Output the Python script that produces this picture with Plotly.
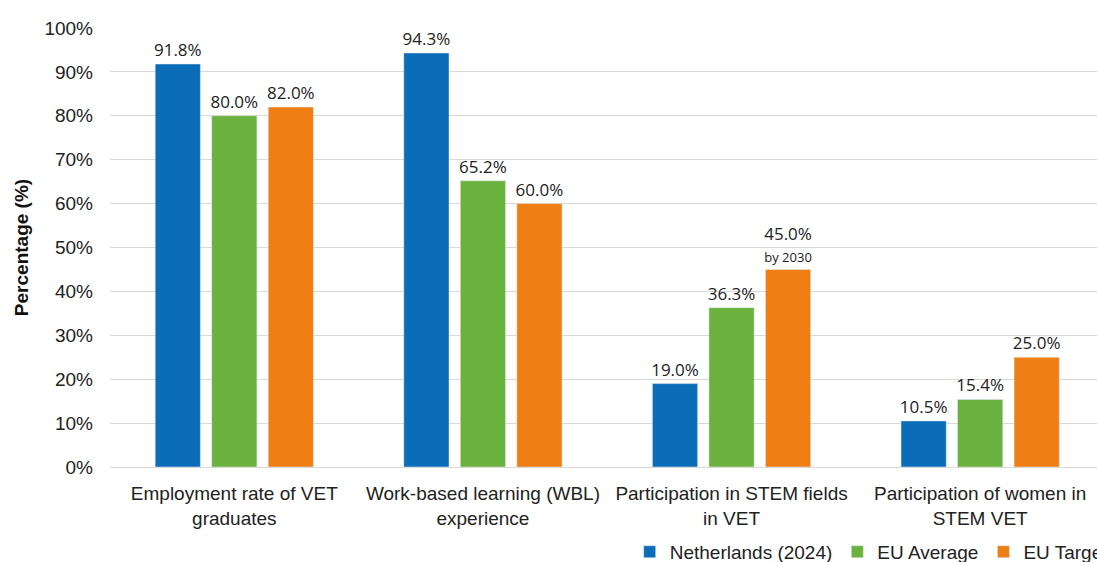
import plotly.graph_objects as go

categories = ["Employment rate of VET<br>graduates", "Work-based learning (WBL)<br>experience",
              "Participation in STEM fields<br>in VET", "Participation of women in<br>STEM VET"]
netherlands = [91.8, 94.3, 19.0, 10.5]
eu_average = [80.0, 65.2, 36.3, 15.4]
eu_target = [82.0, 60.0, 45.0, 25.0]
target_notes = ["", "", "by 2030", ""]
series_names = ["Netherlands (2024)", "EU Average", "EU Target"]
colors = ["#0B6CB8", "#6BB13D", "#EF7E15"]

def labels(vals, notes=None):
    out = []
    for i, v in enumerate(vals):
        t = f"{v:.1f}%"
        if notes and notes[i]:
            t += f"<br><span style='font-size:13px'>{notes[i]}</span>"
        out.append(t)
    return out

fig = go.Figure()
for name, vals, col, notes in zip(series_names, [netherlands, eu_average, eu_target], colors,
                                  [None, None, target_notes]):
    fig.add_trace(go.Bar(
        x=categories, y=vals, name=name, marker_color=col,
        text=labels(vals, notes), textposition="outside", cliponaxis=False,
        constraintext="none",
        textfont=dict(family="Open Sans", size=17, color="#222"),
    ))

fig.update_layout(
    width=1097, height=562,
    margin=dict(l=110, r=0, t=28, b=95),
    plot_bgcolor="white", paper_bgcolor="white",
    barmode="group", bargap=0.318, bargroupgap=0.2,
    font=dict(family="Liberation Sans, Arial", size=19, color="#222"),
    legend=dict(orientation="h", xref="container", yref="container",
                x=0.574, xanchor="left", y=0.018, yanchor="middle",
                font=dict(size=19, color="#222"), itemwidth=30, traceorder="normal"),
)
fig.update_xaxes(range=[-0.5, 3.47], showgrid=False, showline=False, ticks="",
                 automargin=False, ticklabelstandoff=13,
                 tickfont=dict(size=19, color="#222"))
fig.update_yaxes(range=[0, 100], dtick=10, ticksuffix="%", gridcolor="#D9D9D9", gridwidth=1,
                 zeroline=True, zerolinecolor="#D9D9D9", zerolinewidth=1, automargin=False,
                 tickfont=dict(size=19, color="#222"), ticklabelstandoff=16,
                 title=dict(text="<b>Percentage (%)</b>", font=dict(size=19, color="#111"), standoff=10))

fig.write_html("out.html")
